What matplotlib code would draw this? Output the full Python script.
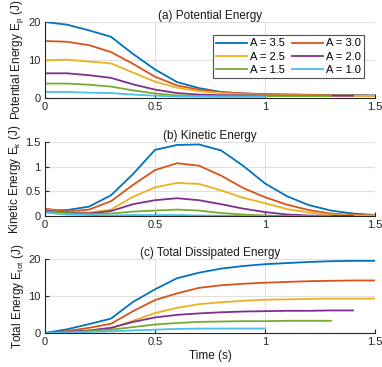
import matplotlib
matplotlib.use("Agg")
import matplotlib.pyplot as plt
import numpy as np

plt.rcParams['font.family'] = ['Liberation Sans', 'DejaVu Sans']

labels = ["A = 3.5", "A = 3.0", "A = 2.5", "A = 2.0", "A = 1.5", "A = 1.0"]
colors = ["#0072BD", "#D95319", "#EDB120", "#7E2F8E", "#77AC30", "#4DBEEE"]

t15 = [0.0, 0.1, 0.2, 0.3, 0.4, 0.5, 0.6, 0.7, 0.8, 0.9, 1.0, 1.1, 1.2, 1.3, 1.4, 1.5]
t14 = t15[:15]
t13 = t15[:14]
t10 = t15[:11]
times = [t15, t15, t15, t14, t13, t10]

ep_35 = [20.0, 19.3, 17.8, 16.1, 11.6, 7.5, 4.2, 2.6, 1.6, 1.2, 1.0, 0.9, 0.85, 0.8, 0.75, 0.7]
ep_30 = [15.0, 14.8, 13.9, 12.1, 9.0, 5.6, 3.3, 2.2, 1.5, 1.2, 1.0, 0.9, 0.8, 0.7, 0.65, 0.6]
ep_25 = [9.9, 10.1, 9.6, 9.1, 6.7, 4.3, 2.7, 1.8, 1.3, 1.0, 0.8, 0.75, 0.7, 0.65, 0.6, 0.6]
ep_20 = [6.5, 6.5, 6.0, 5.3, 3.6, 2.2, 1.3, 0.9, 0.75, 0.7, 0.65, 0.6, 0.6, 0.6, 0.6]
ep_15 = [3.8, 3.8, 3.5, 3.0, 2.0, 1.2, 0.7, 0.55, 0.5, 0.5, 0.5, 0.5, 0.5, 0.5]
ep_10 = [1.6, 1.6, 1.4, 1.3, 0.9, 0.6, 0.4, 0.35, 0.3, 0.3, 0.3]

ek_35 = [0.11, 0.12, 0.19, 0.42, 0.85, 1.34, 1.44, 1.45, 1.33, 1.02, 0.66, 0.40, 0.22, 0.11, 0.05, 0.02]
ek_30 = [0.15, 0.09, 0.13, 0.30, 0.63, 0.93, 1.07, 1.02, 0.82, 0.57, 0.38, 0.23, 0.12, 0.05, 0.02, 0.01]
ek_25 = [0.13, 0.07, 0.07, 0.13, 0.39, 0.58, 0.67, 0.65, 0.52, 0.37, 0.26, 0.14, 0.07, 0.03, 0.01, 0.01]
ek_20 = [0.11, 0.07, 0.05, 0.10, 0.24, 0.32, 0.36, 0.32, 0.24, 0.15, 0.08, 0.03, 0.01, 0.005, 0.0]
ek_15 = [0.09, 0.06, 0.04, 0.05, 0.09, 0.11, 0.13, 0.11, 0.06, 0.03, 0.01, 0.0, 0.0, 0.0]
ek_10 = [0.07, 0.03, 0.02, 0.01, 0.02, 0.02, 0.02, 0.01, 0.005, 0.0, 0.0]

et_35 = [0.0, 1.0, 2.4, 3.9, 8.4, 11.8, 14.8, 16.3, 17.4, 18.1, 18.6, 18.9, 19.2, 19.4, 19.5, 19.5]
et_30 = [0.0, 0.5, 1.4, 2.5, 5.9, 8.9, 10.7, 12.2, 12.9, 13.3, 13.6, 13.8, 14.0, 14.1, 14.2, 14.2]
et_25 = [0.0, 0.2, 0.5, 1.2, 3.3, 5.4, 6.8, 7.8, 8.3, 8.7, 9.0, 9.1, 9.2, 9.3, 9.3, 9.3]
et_20 = [0.0, 0.3, 0.7, 1.4, 3.0, 4.2, 4.9, 5.3, 5.6, 5.8, 5.9, 6.0, 6.0, 6.1, 6.1]
et_15 = [0.0, 0.2, 0.5, 0.9, 1.6, 2.3, 2.7, 3.0, 3.1, 3.2, 3.2, 3.3, 3.3, 3.3]
et_10 = [0.0, 0.1, 0.3, 0.45, 0.7, 0.9, 1.1, 1.2, 1.2, 1.2, 1.2]

EP = [ep_35, ep_30, ep_25, ep_20, ep_15, ep_10]
EK = [ek_35, ek_30, ek_25, ek_20, ek_15, ek_10]
ET = [et_35, et_30, et_25, et_20, et_15, et_10]

fig = plt.figure(figsize=(3.82, 3.67), dpi=100)
W, H = 382, 367
def ax_at(l, t, r, b):
    return fig.add_axes([l / W, 1 - b / H, (r - l) / W, (b - t) / H])

axa = ax_at(45, 22, 375, 98)
axb = ax_at(45, 142, 375, 216)
axc = ax_at(45, 259, 375, 333)

panels = [
    (axa, EP, "(a) Potential Energy", "Potential Energy E$_\\mathregular{p}$ (J)", [0, 10, 20], ["0", "10", "20"], (0, 20)),
    (axb, EK, "(b) Kinetic Energy", "Kinetic Energy E$_\\mathregular{k}$ (J)", [0, 0.5, 1, 1.5], ["0", "0.5", "1", "1.5"], (0, 1.5)),
    (axc, ET, "(c) Total Dissipated Energy", "Total Energy E$_\\mathregular{tot}$ (J)", [0, 10, 20], ["0", "10", "20"], (0, 20)),
]

handles = []
for ax, data, title, ylab, yt, ytl, ylim in panels:
    hs = []
    for tt, yy, c, lab in zip(times, data, colors, labels):
        h, = ax.plot(tt, yy, color=c, lw=1.3, label=lab)
        hs.append(h)
    if ax is axa:
        handles = hs
    ax.set_xlim(0, 1.5)
    ax.set_ylim(*ylim)
    ax.set_xticks([0, 0.5, 1, 1.5])
    ax.set_xticklabels(["0", "0.5", "1", "1.5"])
    ax.set_yticks(yt)
    ax.set_yticklabels(ytl)
    ax.grid(True, color="#e0e0e0", lw=0.8)
    ax.set_axisbelow(True)
    for s in ["top", "right"]:
        ax.spines[s].set_visible(False)
    for s in ["left", "bottom"]:
        ax.spines[s].set_color("#262626")
        ax.spines[s].set_linewidth(0.8)
    ax.tick_params(direction="in", length=3, labelsize=8, colors="#262626", pad=3)
    ax.set_title(title, fontsize=8.5, pad=2, color="#1a1a1a")
    ax.set_ylabel(ylab, fontsize=8.5, labelpad=2, color="#1a1a1a")

axc.set_xlabel("Time (s)", fontsize=8.5, labelpad=2, color="#1a1a1a")

order = [0, 2, 4, 1, 3, 5]
leg = axa.legend([handles[i] for i in order], [labels[i] for i in order],
                 ncol=2, loc="upper right", fontsize=8, frameon=True, fancybox=False,
                 edgecolor="#262626", handlelength=2.8, handletextpad=0.3,
                 columnspacing=0.6, labelspacing=0.3, borderpad=0.3,
                 bbox_to_anchor=(0.985, 0.9))
leg.get_frame().set_linewidth(0.8)

fig.savefig("out.png", dpi=100)
